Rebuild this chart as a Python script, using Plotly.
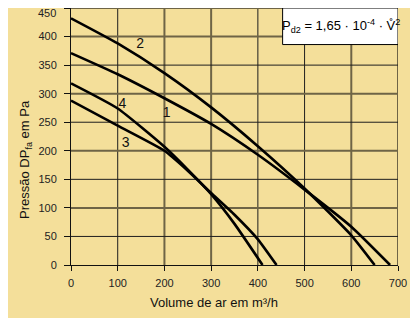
import plotly.graph_objects as go

# Data
flow_1 = [0, 100, 200, 300, 400, 500, 600, 683]
pres_1 = [371, 334, 292, 247, 193, 132, 67, 0]

flow_2 = [0, 100, 200, 300, 400, 500, 600, 650]
pres_2 = [432, 388, 336, 276, 208, 134, 52, 0]

flow_3 = [0, 100, 200, 250, 300, 350, 400, 440]
pres_3 = [288, 244, 200, 165, 126, 88, 45, 0]

flow_4 = [0, 100, 200, 250, 300, 350, 410]
pres_4 = [318, 274, 207, 167, 124, 72, 0]

series = [("1", flow_1, pres_1), ("2", flow_2, pres_2), ("3", flow_3, pres_3), ("4", flow_4, pres_4)]

label_text = ["2", "1", "4", "3"]
label_x = [148, 205, 110, 117]
label_y = [386, 265, 281, 212]

x_ticks = [0, 100, 200, 300, 400, 500, 600, 700]
y_ticks = [0, 50, 100, 150, 200, 250, 300, 350, 400, 450]
y_ticktext = ["0", "50", "100", "150", "200", "250", "300", "350", "400", ""]
top_label = "450"

# grid lines that appear as heavier grey lines in the reference
heavy_x = [200, 300, 600, 700]
heavy_y = [100, 200, 300, 400, 450]

BG = "#F4DF9A"
FONT = "Liberation Sans, Arial, sans-serif"
THIN = "#1e1e1e"
HEAVY = "#6e6446"

fig = go.Figure()

# grid lines
for xv in x_ticks[1:]:
    heavy = xv in heavy_x
    fig.add_shape(type="line", xref="x", yref="y", x0=xv, x1=xv, y0=0, y1=450, layer="below",
                  line=dict(color=HEAVY if heavy else THIN, width=2 if heavy else 1))
for yv in y_ticks[1:]:
    heavy = yv in heavy_y
    fig.add_shape(type="line", xref="x", yref="y", x0=0, x1=700, y0=yv, y1=yv, layer="below",
                  line=dict(color=HEAVY if heavy else THIN, width=2 if heavy else 1))

for name, fx, py in series:
    fig.add_trace(go.Scatter(x=fx, y=py, mode="lines", name=name,
                             line=dict(color="black", width=2.6, shape="spline", smoothing=0.5),
                             showlegend=False, hoverinfo="skip"))

fig.add_trace(go.Scatter(x=label_x, y=label_y, mode="text", text=label_text,
                         textfont=dict(family=FONT, size=14, color="#111"),
                         showlegend=False, hoverinfo="skip"))

# formula box
fig.add_shape(type="rect", xref="x", yref="y", x0=453, x1=700, y0=386, y1=450,
              fillcolor="white", line=dict(color="black", width=1), layer="above")
fig.add_annotation(xref="x", yref="y", x=578, y=418, showarrow=False,
                   text="P<sub>d2</sub> = 1,65 · 10<sup>-4</sup> · V\u030a<sup>2</sup>",
                   font=dict(family=FONT, size=13, color="black"))

fig.add_annotation(xref="paper", yref="y", x=0, y=450, showarrow=False, text=top_label,
                   xanchor="right", yanchor="middle", xshift=-13, yshift=-5,
                   font=dict(family=FONT, size=11, color="#222"))

fig.add_annotation(xref="paper", yref="paper", x=0.437, y=-0.144, showarrow=False,
                   text="Volume de ar em m³/h", font=dict(family=FONT, size=13, color="#111"),
                   xanchor="center", yanchor="middle")
fig.add_annotation(xref="paper", yref="paper", x=-0.1376, y=0.4086, showarrow=False,
                   text="Pressão DP<sub>fa</sub> em Pa", textangle=-90,
                   font=dict(family=FONT, size=13, color="#111"),
                   xanchor="center", yanchor="middle")

fig.update_xaxes(range=[0, 700], tickvals=x_ticks, showgrid=False,
                 zeroline=False, showline=True, linecolor="#111", linewidth=1,
                 ticks="outside", ticklen=5, tickcolor="#111", ticklabelstandoff=3,
                 tickfont=dict(family=FONT, size=11, color="#222"))
fig.update_yaxes(range=[0, 450], tickvals=y_ticks, ticktext=y_ticktext, showgrid=False,
                 zeroline=False, showline=True, linecolor="#111", linewidth=1,
                 ticks="outside", ticklen=6, tickcolor="#111", ticklabelstandoff=5,
                 tickfont=dict(family=FONT, size=11, color="#222"))

fig.update_layout(width=410, height=310, margin=dict(l=63, r=20, t=0, b=53),
                  paper_bgcolor=BG, plot_bgcolor=BG)

fig.write_html("out.html")
